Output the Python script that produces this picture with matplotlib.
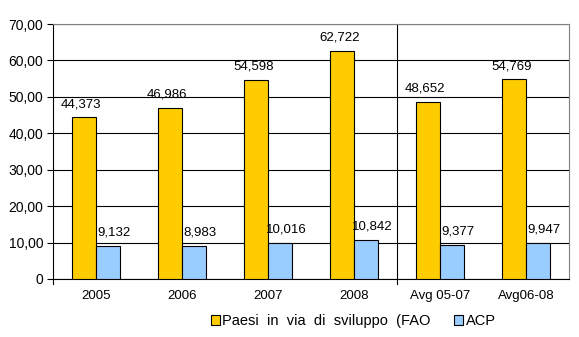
import matplotlib.pyplot as plt
import numpy as np

categories = ["2005", "2006", "2007", "2008", "Avg 05-07", "Avg06-08"]
paesi = [44.373, 46.986, 54.598, 62.722, 48.652, 54.769]
acp = [9.132, 8.983, 10.016, 10.842, 9.377, 9.947]
series_names = ["Paesi  in  via  di  sviluppo  (FAO", "ACP"]
yticks = [0, 10, 20, 30, 40, 50, 60, 70]

plt.rcParams['font.family'] = ['Liberation Sans', 'DejaVu Sans']
plt.rcParams['font.size'] = 9

W, H = 579, 337
fig = plt.figure(figsize=(W / 100, H / 100), dpi=100)
fig.patch.set_facecolor("white")
ax = fig.add_axes([53 / W, 1 - 279 / H, (569 - 53) / W, (279 - 24) / H])

x = np.arange(len(categories))
bw = 0.28

b1 = ax.bar(x - bw / 2, paesi, bw, color="#FFCC00", edgecolor="black", linewidth=0.8, zorder=3)
b2 = ax.bar(x + bw / 2, acp, bw, color="#99CCFF", edgecolor="black", linewidth=0.8, zorder=3)

# value labels, Italian decimal comma
def fmt(v):
    return ("%.3f" % v).replace(".", ",")

for xi, v in zip(x - bw / 2, paesi):
    ax.text(xi - 0.03, v + 2.0, fmt(v), ha="center", va="bottom", fontsize=9.5, zorder=4)
for xi, v in zip(x + bw / 2, acp):
    ax.text(xi + 0.07, v + 2.0, fmt(v), ha="center", va="bottom", fontsize=9.5, zorder=4)

ax.set_xlim(-0.5, len(categories) - 0.5)
ax.set_ylim(0, 70)
ax.set_yticks(yticks)
ax.set_yticklabels(["0"] + ["%d,00" % t for t in yticks[1:]], fontsize=10)
ax.yaxis.grid(True, color="black", linewidth=0.8, zorder=1)
ax.set_axisbelow(True)

ax.set_xticks(x)
ax.set_xticklabels(categories, fontsize=9.5)
ax.tick_params(axis="x", length=0, pad=8)
ax.tick_params(axis="y", length=4, width=0.8, pad=3)

for side in ["top", "right"]:
    ax.spines[side].set_color("#808080")
ax.spines["left"].set_linewidth(0.8)
ax.spines["bottom"].set_linewidth(0.8)

# separator between yearly values and averages, running slightly below the axis
ax.plot([3.5, 3.5], [-1.3, 70], color="black", linewidth=0.8, clip_on=False, zorder=2)
ax.plot([-0.5, -0.5], [-1.3, 0], color="black", linewidth=0.8, clip_on=False, zorder=2)

leg = fig.legend([b1, b2], series_names, loc="lower left", bbox_to_anchor=(205 / W, 1 - 334 / H),
                 ncol=2, frameon=False, fontsize=10.5, handlelength=0.6, handleheight=0.6,
                 handletextpad=0.2, columnspacing=1.6, borderaxespad=0)

fig.savefig("out.png", dpi=100)
